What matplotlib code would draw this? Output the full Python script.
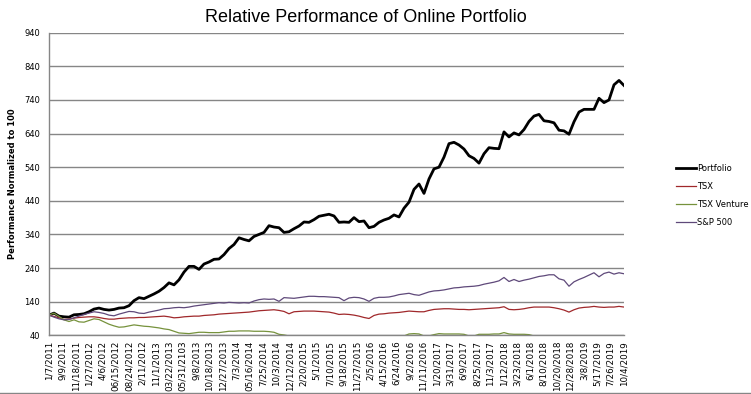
import matplotlib
matplotlib.use("Agg")
import matplotlib.pyplot as plt
import numpy as np
from matplotlib.lines import Line2D

title = "Relative Performance of Online Portfolio"
y_label = "Performance Normalized to 100"
series_names = ["Portfolio", "TSX", "TSX Venture", "S&P 500"]

tick_labels = ["1/7/2011", "9/9/2011", "11/18/2011", "1/27/2012", "4/6/2012", "06/15/2012",
               "08/24/2012", "2/11/2012", "11/1/2013", "03/22/2013", "05/31/2103", "9/8/2013",
               "10/18/2013", "12/27/2013", "7/3/2014", "05/16/2014", "7/25/2014", "10/3/2014",
               "12/12/2014", "2/20/2015", "5/1/2015", "7/10/2015", "9/18/2015", "11/27/2015",
               "2/5/2016", "4/15/2016", "6/24/2016", "9/2/2016", "11/11/2016", "1/20/2017",
               "3/31/2017", "6/9/2017", "8/25/2017", "11/3/2017", "1/12/2018", "3/23/2018",
               "6/1/2018", "8/10/2018", "10/20/2018", "12/28/2018", "3/8/2019", "5/17/2019",
               "7/26/2019", "10/4/2019"]

portfolio = [100, 106, 97, 95, 94, 101, 102, 104, 110, 118, 121, 117, 115, 117, 121, 122,
             128, 143, 152, 149, 156, 163, 171, 182, 196, 190, 205, 228, 245, 245, 236, 252,
             258, 266, 267, 280, 298, 310, 330, 325, 321, 334, 340, 346, 366, 362, 360, 346,
             348, 357, 365, 377, 376, 384, 394, 397, 400, 395, 376, 377, 376, 390, 378, 380,
             360, 364, 376, 383, 388, 398, 392, 418, 436, 474, 490, 462, 505, 535, 540, 570,
             610, 614, 606, 594, 574, 566, 552, 580, 598, 596, 595, 645, 630, 642, 636, 652,
             676, 692, 697, 678, 676, 672, 650, 648, 638, 675, 704, 712, 712, 712, 745, 732,
             740, 785, 798, 783]

tsx = [100, 96, 92, 87, 88, 91, 93, 94, 95, 95, 93, 90, 88, 88, 90, 91,
       92, 92, 93, 93, 94, 95, 96, 97, 95, 92, 93, 95, 96, 97, 97, 99,
       100, 101, 103, 104, 105, 106, 107, 108, 109, 111, 113, 114, 115, 116, 114, 111,
       104, 110, 111, 112, 112, 112, 111, 110, 109, 106, 102, 103, 102, 100, 97, 93,
       90, 99, 103, 104, 106, 107, 108, 110, 112, 111, 110, 110, 114, 117, 118, 119,
       119, 118, 117, 117, 116, 117, 118, 119, 120, 121, 122, 125, 117, 116, 117, 119,
       122, 124, 124, 124, 124, 122, 119, 115, 109, 116, 121, 123, 124, 126, 124, 123,
       124, 124, 126, 124]

tsx_venture = [100, 106, 96, 86, 81, 86, 80, 79, 84, 89, 87, 80, 73, 68, 64, 65,
               68, 71, 69, 67, 66, 64, 62, 59, 57, 52, 47, 46, 45, 47, 49, 49,
               48, 48, 48, 50, 52, 52, 53, 53, 53, 52, 52, 52, 51, 49, 43, 41,
               38, 35, 33, 32, 31, 32, 33, 32, 31, 30, 29, 29, 30, 31, 30, 29,
               28, 30, 32, 34, 35, 36, 37, 38, 44, 45, 44, 38, 38, 42, 45, 44,
               44, 44, 44, 43, 38, 38, 43, 43, 43, 44, 44, 48, 44, 43, 43, 43,
               42, 38, 36, 35, 34, 33, 32, 31, 30, 30, 31, 31, 30, 30, 29, 29,
               29, 28, 28, 28]

sp500 = [100, 94, 89, 86, 87, 92, 97, 102, 106, 110, 108, 105, 100, 98, 103, 107,
         111, 110, 106, 105, 109, 112, 115, 119, 120, 122, 123, 122, 124, 127, 129, 131,
         133, 135, 137, 136, 138, 137, 136, 137, 136, 142, 146, 148, 147, 148, 141, 152,
         151, 150, 152, 154, 156, 156, 155, 155, 154, 153, 152, 143, 151, 153, 152, 148,
         141, 150, 153, 153, 154, 157, 161, 163, 165, 161, 159, 164, 169, 172, 173, 175,
         178, 181, 182, 184, 185, 186, 188, 192, 195, 198, 202, 212, 200, 206, 200, 204,
         207, 211, 215, 217, 220, 220, 208, 204, 186, 199, 206, 212, 219, 226, 214, 224,
         228, 222, 226, 223]

colors = ["#000000", "#A0282B", "#76923C", "#5F497A"]
widths = [2.0, 0.9, 0.9, 0.9]

W, H = 751, 394
fig = plt.figure(figsize=(W / 100, H / 100), dpi=100)
ax = fig.add_axes([49 / W, 1 - 335.3 / H, (624 - 49) / W, (335.3 - 32.7) / H])

x = np.arange(len(portfolio))
for vals, name, c, lw in zip([portfolio, tsx, tsx_venture, sp500], series_names, colors, widths):
    ax.plot(x, vals, color=c, lw=lw, label=name, solid_joinstyle="round")

ax.set_xlim(0, len(portfolio) - 1)
ax.set_ylim(40, 940)
ax.set_yticks(np.arange(40, 941, 100))
ax.tick_params(axis="y", labelsize=6, length=0, pad=6.5, colors="#000000")
ax.yaxis.grid(True, color="#868686", lw=1)
ax.set_axisbelow(True)

pos = np.linspace(0, len(portfolio) - 1, len(tick_labels))
ax.set_xticks(pos)
ax.set_xticklabels(tick_labels, rotation=90, fontsize=6.3)
ax.tick_params(axis="x", length=0, pad=4)

for s in ["top", "right"]:
    ax.spines[s].set_visible(False)
for s in ["left", "bottom"]:
    ax.spines[s].set_color("#868686")
    ax.spines[s].set_linewidth(1)

ax.set_ylabel(y_label, fontsize=6, fontweight="bold")
ax.yaxis.set_label_coords(-32 / (624 - 49), 0.5)

fig.text(366 / W, 1 - 17 / H, title, ha="center", va="center", fontsize=13,
         family=["Liberation Sans", "DejaVu Sans"])

leg = ax.legend(loc="center left", bbox_to_anchor=(668 / W, 1 - 195.5 / H),
                bbox_transform=fig.transFigure, frameon=False, fontsize=6,
                handlelength=2.4, handletextpad=0.2, labelspacing=1.05)

fig.add_artist(Line2D([0, 1], [0.8 / H, 0.8 / H], color="#868686", lw=1,
                      transform=fig.transFigure))

fig.savefig("out.png", dpi=100)
